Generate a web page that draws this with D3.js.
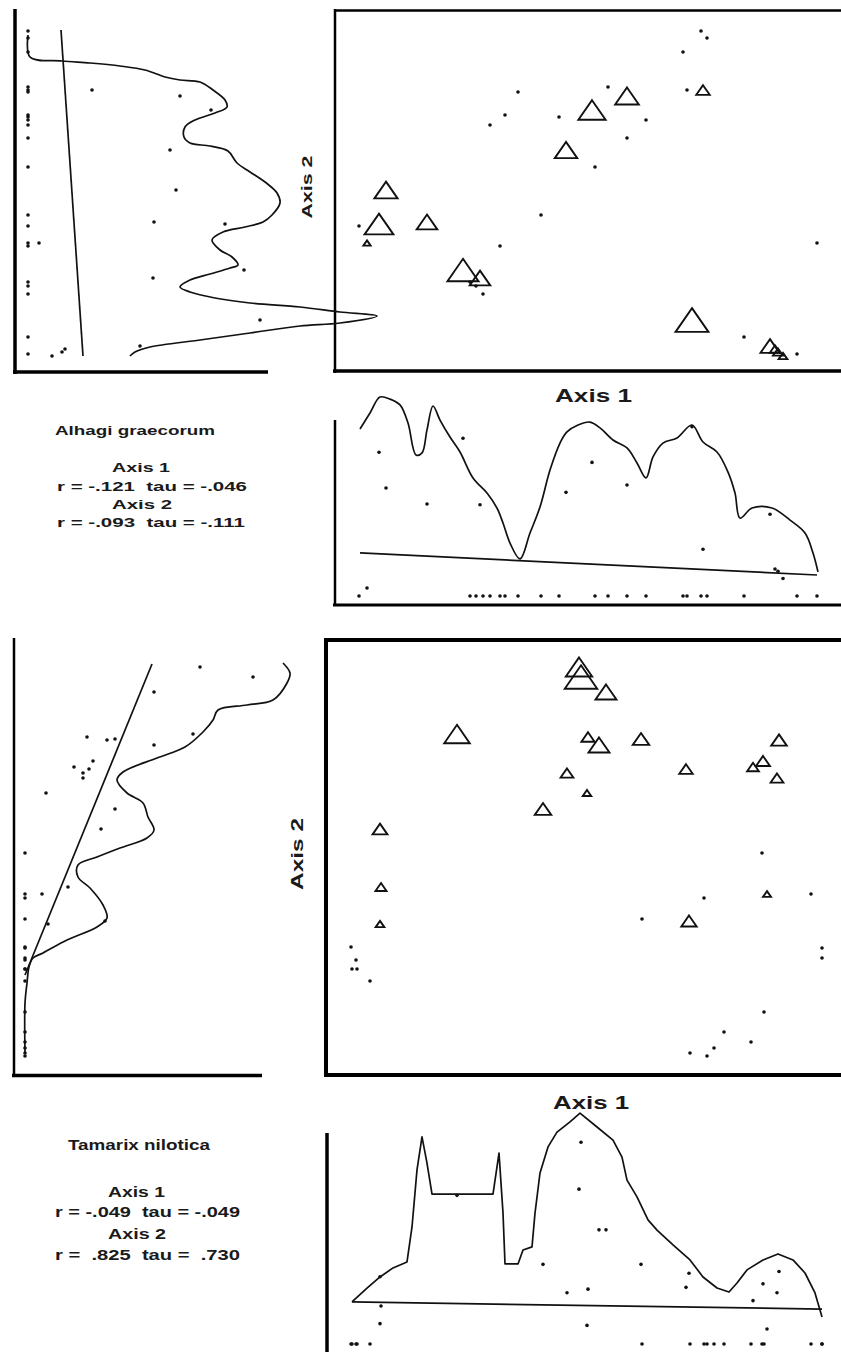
<!DOCTYPE html>
<html>
<head>
<meta charset="utf-8">
<script src="https://cdn.jsdelivr.net/npm/d3@7"></script>
<style>
  body { margin: 0; background: #fff; }
  svg { display: block; }
  text { font-family: "Liberation Sans", Arial, sans-serif; fill: #1a1a1a; font-weight: bold; }
</style>
</head>
<body>
<div id="chart"></div>
<script>

// ---- Alhagi graecorum : plots as [axis1 score, axis2 score, abundance] ----
const alhagiPlots = [
  [73.2, 85.25, 0], [74.4, 83.5, 0], [69.6, 80, 0], [54.6, 71.25, 0], [36.6, 70, 0],
  [34, 64.25, 0], [31, 61.75, 0], [44.8, 63.75, 0], [62.2, 63, 0], [58.4, 58.5, 0],
  [52, 51.25, 0], [41.2, 39.25, 0], [4.8, 36.5, 0], [6.4, 32.25, 4.4], [33, 31.5, 0],
  [29.6, 19.5, 0], [96.4, 32.25, 0], [81.8, 8.75, 0], [92.4, 4.5, 0], [70.4, 70.5, 0],
  [27, 22.5, 0], [28.2, 21.5, 0],
  [73.6, 70.5, 25.6], [58.4, 69, 60.8], [51.4, 65.5, 73.2], [46.2, 55.5, 56.8],
  [10.2, 45.5, 59.2], [8.8, 37, 78.8], [18.4, 37.5, 50.4], [25.6, 25.5, 86.4],
  [29, 23.5, 50], [71.4, 13, 92.8], [87, 6.5, 44.8], [88, 5.75, 14.8],
  [88.6, 5, 13.6], [89.6, 4, 9.6]
];

// smoothed abundance along axis 2: [abundance, axis2]
const alhagiAxis2Curve = [
  [0, 84.25], [0.8, 78.75], [13.6, 77.75], [24.8, 77.25], [36.8, 76.5], [46.8, 75.5],
  [54.8, 73.75], [60.8, 73], [68.8, 72.5], [74, 70.5], [78.8, 68], [79.6, 66.25],
  [74.8, 64.75], [66.8, 63], [62.8, 61.25], [62.4, 58.75], [64.8, 57.25], [72.8, 56.5],
  [80, 55.25], [83.6, 52.25], [88.8, 50], [94.8, 47.5], [99.6, 44.75], [100.8, 42.25],
  [97.6, 39.25], [94, 37.5], [86.8, 36.25], [78, 35], [73.6, 33], [76.8, 30.5],
  [81.6, 28.75], [84, 26.75], [80.8, 26], [72.8, 24.5], [64.8, 23], [60.8, 21.25],
  [64.8, 20], [74.8, 18.5], [88.8, 17.25], [108.8, 16.25], [124.8, 15], [139.6, 14],
  [124.8, 12.25], [108.8, 11.5], [88.8, 9.75], [68.8, 8], [48.8, 6.25], [42.8, 5], [40.8, 4]
];
const alhagiAxis2Line = [[13.2, 85.5], [22, 4]];

// smoothed abundance along axis 1: [axis1, abundance]
const alhagiAxis1Curve = [
  [5, 91.5], [7, 100.3], [9, 109], [11, 107.9], [13, 104.7], [14.6, 94.8], [16.2, 77.3],
  [17.4, 78.4], [18.4, 91], [19.6, 104.1], [21, 96.4], [23, 87.1], [25, 78.9], [27.6, 64.7],
  [30.4, 56.4], [32.4, 48.2], [33.6, 40], [35, 29], [37, 20.3], [39, 34.5], [41, 48.8],
  [43, 69], [45, 83.8], [46.4, 89.9], [48.6, 93.7], [51, 95.3], [53, 92.1], [55.6, 85.5],
  [58.4, 81.1], [60.4, 72.9], [62.2, 64.7], [63.6, 76.2], [65.6, 83.8], [68.4, 86.6],
  [71.4, 93.7], [73.6, 84.4], [76.4, 78.9], [78.6, 67.9], [80, 56.4], [81, 42.7],
  [83.4, 48.2], [87.4, 48.2], [91, 41.6], [94, 34.5], [95.6, 23.6], [96.6, 13.2]
];
const alhagiAxis1Line = [[5, 23.6], [96.4, 11.5]];

const alhagiText = ["Alhagi graecorum", "Axis 1", "r = -.121  tau = -.046", "Axis 2", "r = -.093  tau = -.111"];

// ---- Tamarix nilotica ----
const tamarixPlots = [
  [50.8, 102, 70], [51.2, 99.5, 91.2], [56.2, 95.75, 51.6], [26.4, 85.25, 67.2],
  [52.6, 84.5, 24.8], [54.8, 82.5, 51.6], [63.2, 84, 36], [90.8, 83.75, 32.8],
  [72.2, 76.5, 25.6], [87.6, 78.5, 27.2], [85.6, 77, 19.6], [90.4, 74.25, 23.2],
  [48.4, 75.5, 23.2], [52.4, 70.5, 8.4], [43.6, 66.5, 36], [11, 61.5, 30.4],
  [11.2, 47, 17.2], [11, 37.75, 9.2], [72.8, 38.5, 32], [88.4, 45.25, 6.8],
  [5.2, 32, 0], [6.2, 28.75, 0], [5.4, 26.5, 0], [6.4, 26.5, 0], [9, 23.5, 0],
  [63.4, 39, 0], [75.8, 44.25, 0], [87.4, 55.5, 0], [97.2, 45.25, 0], [99.4, 31.75, 0],
  [99.4, 29.25, 0], [87.8, 15.75, 0], [79.8, 10.75, 0], [85.2, 8.25, 0], [73, 5.5, 0],
  [76.4, 4.75, 0], [77.8, 6.75, 0]
];

const tamarixAxis2Curve = [
  [103.2, 103], [106, 100.5], [104.8, 98], [99.2, 93.75], [88.8, 92.5], [77.2, 91.25],
  [75.2, 88.75], [71.2, 85.75], [64, 82], [52.8, 79.25], [39.2, 75.75], [36.8, 73.75],
  [40.8, 70.5], [47.2, 68], [49.2, 64.5], [51.6, 61.25], [48.8, 59.25], [38, 56.75],
  [28.8, 54.5], [21.2, 52.5], [21.2, 49.5], [26, 46.75], [31.2, 42.5], [32.8, 39.25],
  [28.8, 37], [16.8, 33.75], [7.2, 30.5], [3.2, 29.25], [1.6, 27], [0.8, 23], [0, 18], [0, 5.5]
];
const tamarixAxis2Line = [[50.8, 102.75], [0, 25]];

const tamarixAxis1Curve = [
  [5.4, 19], [8.4, 25.3], [11, 30.3], [13.6, 34.4], [16.4, 37.1], [17.4, 52.9], [18.4, 78.7],
  [19.4, 93.6], [20.4, 81.8], [21.4, 67.8], [33.6, 67.8], [34.8, 86.3], [35.6, 59.2],
  [36, 36.2], [38.6, 36.2], [39.6, 42.5], [41.4, 43.9], [42, 59.2], [43, 77.3], [44.6, 89.1],
  [46.4, 95.8], [49, 100.4], [51, 104.4], [54.4, 98.1], [57.6, 92.2], [59.4, 84.5],
  [60.4, 74.1], [62.4, 66.5], [64.6, 56.1], [66.4, 51.5], [69.6, 44.8], [73, 38],
  [75.6, 30.3], [78.4, 25.3], [80.8, 23.5], [82.4, 27.6], [84.4, 33.5], [87.6, 38],
  [90.6, 40.7], [93.6, 38], [96, 32.1], [98, 23.1], [99.4, 12.2]
];
const tamarixAxis1Line = [[5.4, 19], [99.4, 15.8]];

const tamarixText = ["Tamarix nilotica", "Axis 1", "r = -.049  tau = -.049", "Axis 2", "r =  .825  tau =  .730"];

const axisTitles = ["Axis 1", "Axis 2"];


const svg = d3.select("#chart").append("svg")
    .attr("width", 841)
    .attr("height", 1352);

// symbol width grows with abundance (same for both species)
const triWidth = d3.scaleLinear().domain([0, 100]).range([6, 35]);
const smooth = d3.curveCatmullRom.alpha(0.5);

function drawSpecies(c) {
    let g = svg.append("g");

    // frames / axis rules
    g.selectAll("line.rule")
        .data(c.rules)
        .join("line")
        .attr("class", "rule")
        .attr("x1", d => d[0]).attr("y1", d => d[1])
        .attr("x2", d => d[2]).attr("y2", d => d[3])
        .attr("stroke", "#000")
        .attr("stroke-width", d => d[4]);

    let lineA2 = d3.line().x(d => c.abX(d[0])).y(d => c.y2(d[1]));
    let lineA1 = d3.line().x(d => c.x1(d[0])).y(d => c.abY(d[1]));

    let paths = [
        lineA2(c.a2Line),
        lineA1(c.a1Line),
        lineA2.curve(c.curveA2)(c.a2Curve),
        lineA1.curve(c.curveA1)(c.a1Curve)
    ];
    g.selectAll("path.fit")
        .data(paths)
        .join("path")
        .attr("class", "fit")
        .attr("d", d => d)
        .attr("fill", "none")
        .attr("stroke", "#111")
        .attr("stroke-width", 1.7)
        .attr("stroke-linejoin", "round");

    // abundance vs axis 2 (left panel)
    g.selectAll("circle.left")
        .data(c.plots)
        .join("circle")
        .attr("class", "left")
        .attr("cx", d => c.abX(d[2]))
        .attr("cy", d => c.y2(d[1]))
        .attr("r", 1.8)
        .attr("fill", "#111");

    // abundance vs axis 1 (bottom panel)
    g.selectAll("circle.bottom")
        .data(c.plots)
        .join("circle")
        .attr("class", "bottom")
        .attr("cx", d => c.x1(d[0]))
        .attr("cy", d => c.abY(d[2]))
        .attr("r", 1.8)
        .attr("fill", "#111");

    // ordination: dots where absent, triangles sized by abundance
    g.selectAll("circle.absent")
        .data(c.plots.filter(d => d[2] === 0))
        .join("circle")
        .attr("class", "absent")
        .attr("cx", d => c.x1(d[0]))
        .attr("cy", d => c.y2(d[1]))
        .attr("r", 1.8)
        .attr("fill", "#111");

    g.selectAll("path.tri")
        .data(c.plots.filter(d => d[2] > 0))
        .join("path")
        .attr("class", "tri")
        .attr("transform", d => `translate(${c.x1(d[0])},${c.y2(d[1])})`)
        .attr("d", d => {
            let w = triWidth(d[2]), h = w * 0.72;
            return `M0,${-h / 2}L${w / 2},${h / 2}L${-w / 2},${h / 2}Z`;
        })
        .attr("fill", "none")
        .attr("stroke", "#111")
        .attr("stroke-width", 1.9);

    // texts
    g.selectAll("text")
        .data(c.labels)
        .join("text")
        .attr("transform", d => d.rot ? `translate(${d.x},${d.y}) rotate(-90)` : `translate(${d.x},${d.y})`)
        .attr("text-anchor", d => d.rot ? "middle" : "start")
        .attr("font-size", d => d.size)
        .attr("textLength", d => d.len)
        .attr("lengthAdjust", "spacingAndGlyphs")
        .style("white-space", "pre")
        .text(d => d.text);
}

drawSpecies({
    plots: alhagiPlots,
    a2Curve: alhagiAxis2Curve, a2Line: alhagiAxis2Line,
    a1Curve: alhagiAxis1Curve, a1Line: alhagiAxis1Line,
    curveA2: smooth, curveA1: smooth,
    x1: d3.scaleLinear().domain([0, 100]).range([335, 835]),
    y2: d3.scaleLinear().domain([0, 90]).range([372, 12]),
    abX: d3.scaleLinear().domain([0, 100]).range([28, 278]),
    abY: d3.scaleLinear().domain([0, 100]).range([596, 413.5]),
    rules: [
        [15, 9, 15, 374, 3.5], [13, 372, 268, 372, 3.5],
        [335, 10.5, 860, 10.5, 2.5], [335, 9, 335, 373, 2.5], [333, 371, 860, 371, 3.5],
        [335, 420, 335, 606, 2.5], [333, 605, 860, 605, 3]
    ],
    labels: [
        {text: axisTitles[1], x: 312, y: 187, size: 15, len: 63, rot: true},
        {text: axisTitles[0], x: 555, y: 402, size: 19, len: 77},
        {text: alhagiText[0], x: 55, y: 435, size: 13, len: 160},
        {text: alhagiText[1], x: 112, y: 472, size: 13, len: 58},
        {text: alhagiText[2], x: 57, y: 491, size: 13, len: 190},
        {text: alhagiText[3], x: 112, y: 509, size: 13, len: 60},
        {text: alhagiText[4], x: 57, y: 527, size: 13, len: 188}
    ]
});

drawSpecies({
    plots: tamarixPlots,
    a2Curve: tamarixAxis2Curve, a2Line: tamarixAxis2Line,
    a1Curve: tamarixAxis1Curve, a1Line: tamarixAxis1Line,
    curveA2: smooth, curveA1: d3.curveLinear,
    x1: d3.scaleLinear().domain([0, 100]).range([325, 825]),
    y2: d3.scaleLinear().domain([0, 100]).range([1075, 675]),
    abX: d3.scaleLinear().domain([0, 100]).range([25, 275]),
    abY: d3.scaleLinear().domain([0, 100]).range([1344, 1122.8]),
    rules: [
        [14, 638, 14, 1077, 2.5], [12, 1075.5, 262, 1075.5, 3.5],
        [324, 640, 860, 640, 4], [326, 638, 326, 1077, 4], [324, 1075, 860, 1075, 4],
        [327, 1133, 327, 1360, 3.5]
    ],
    labels: [
        {text: axisTitles[1], x: 303, y: 854, size: 17, len: 72, rot: true},
        {text: axisTitles[0], x: 553, y: 1109, size: 19, len: 76},
        {text: tamarixText[0], x: 68, y: 1150, size: 15, len: 142},
        {text: tamarixText[1], x: 108, y: 1197, size: 15, len: 57},
        {text: tamarixText[2], x: 55, y: 1217, size: 15, len: 185},
        {text: tamarixText[3], x: 108, y: 1239, size: 15, len: 58},
        {text: tamarixText[4], x: 55, y: 1260, size: 15, len: 185}
    ]
});

</script>
</body>
</html>
